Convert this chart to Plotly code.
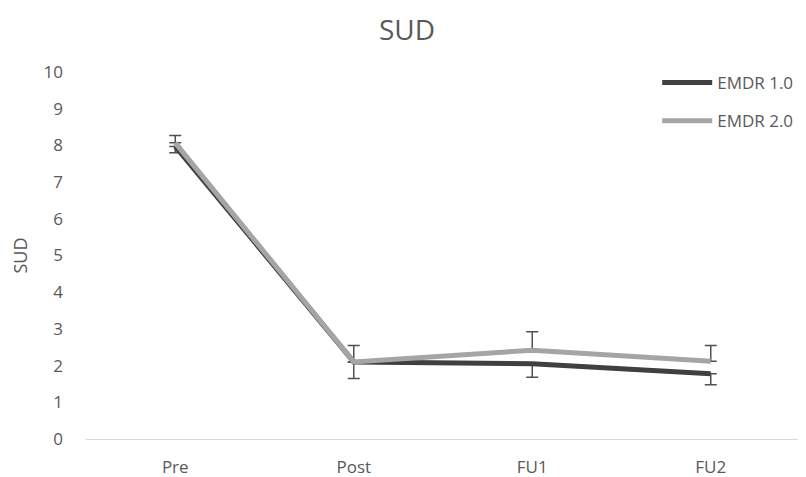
import plotly.graph_objects as go

categories = ["Pre", "Post", "FU1", "FU2"]
emdr1 = [7.97, 2.1, 2.05, 1.78]
emdr1_err_minus = [0.17, 0.45, 0.37, 0.3]
emdr2 = [8.07, 2.1, 2.42, 2.12]
emdr2_err_plus = [0.2, 0.45, 0.5, 0.43]
y_ticks = list(range(0, 11))

font_fam = "Open Sans, Liberation Sans, sans-serif"
txt = "#595959"

fig = go.Figure()
fig.add_trace(go.Scatter(
    x=categories, y=emdr1, mode="lines", name="EMDR 1.0", legendgroup="a",
    line=dict(color="#404040", width=5),
    error_y=dict(type="data", symmetric=False, array=[0]*4, arrayminus=emdr1_err_minus,
                 color="#505050", thickness=1.5, width=6),
))
fig.add_trace(go.Scatter(
    x=categories, y=emdr2, mode="lines", name="EMDR 2.0", legendgroup="b",
    line=dict(color="#a5a5a5", width=5),
    error_y=dict(type="data", symmetric=False, array=emdr2_err_plus, arrayminus=[0]*4,
                 color="#505050", thickness=1.5, width=6),
))

# page body has an 8px margin, so the figure is drawn 8px smaller and offset
fig.update_layout(
    width=798, height=469,
    paper_bgcolor="white", plot_bgcolor="white",
    margin=dict(l=78, r=6, t=64, b=38, autoexpand=False),
    title=dict(text="SUD", x=0.5, xanchor="center", y=0.952, yanchor="middle",
               font=dict(family=font_fam, size=28, color=txt)),
    font=dict(family=font_fam, size=17, color=txt),
    showlegend=True,
    legend=dict(x=0.80, xanchor="left", y=1.019, yanchor="top", bgcolor="rgba(0,0,0,0)",
                itemwidth=50, tracegroupgap=13, traceorder="grouped",
                font=dict(size=17, color=txt)),
    xaxis=dict(type="category", range=[-0.5, 3.5], showgrid=False, showline=True,
               linecolor="#d9d9d9", linewidth=1, ticks="", ticklabelstandoff=13,
               tickfont=dict(size=17, color=txt), automargin=False),
    yaxis=dict(range=[0, 10], tickvals=y_ticks, showgrid=False, showline=False, zeroline=False,
               ticks="", ticklabelstandoff=22, automargin=False,
               title=dict(text="SUD", font=dict(size=18, color=txt), standoff=14),
               tickfont=dict(size=17, color=txt)),
)

fig.write_html("out.html")
